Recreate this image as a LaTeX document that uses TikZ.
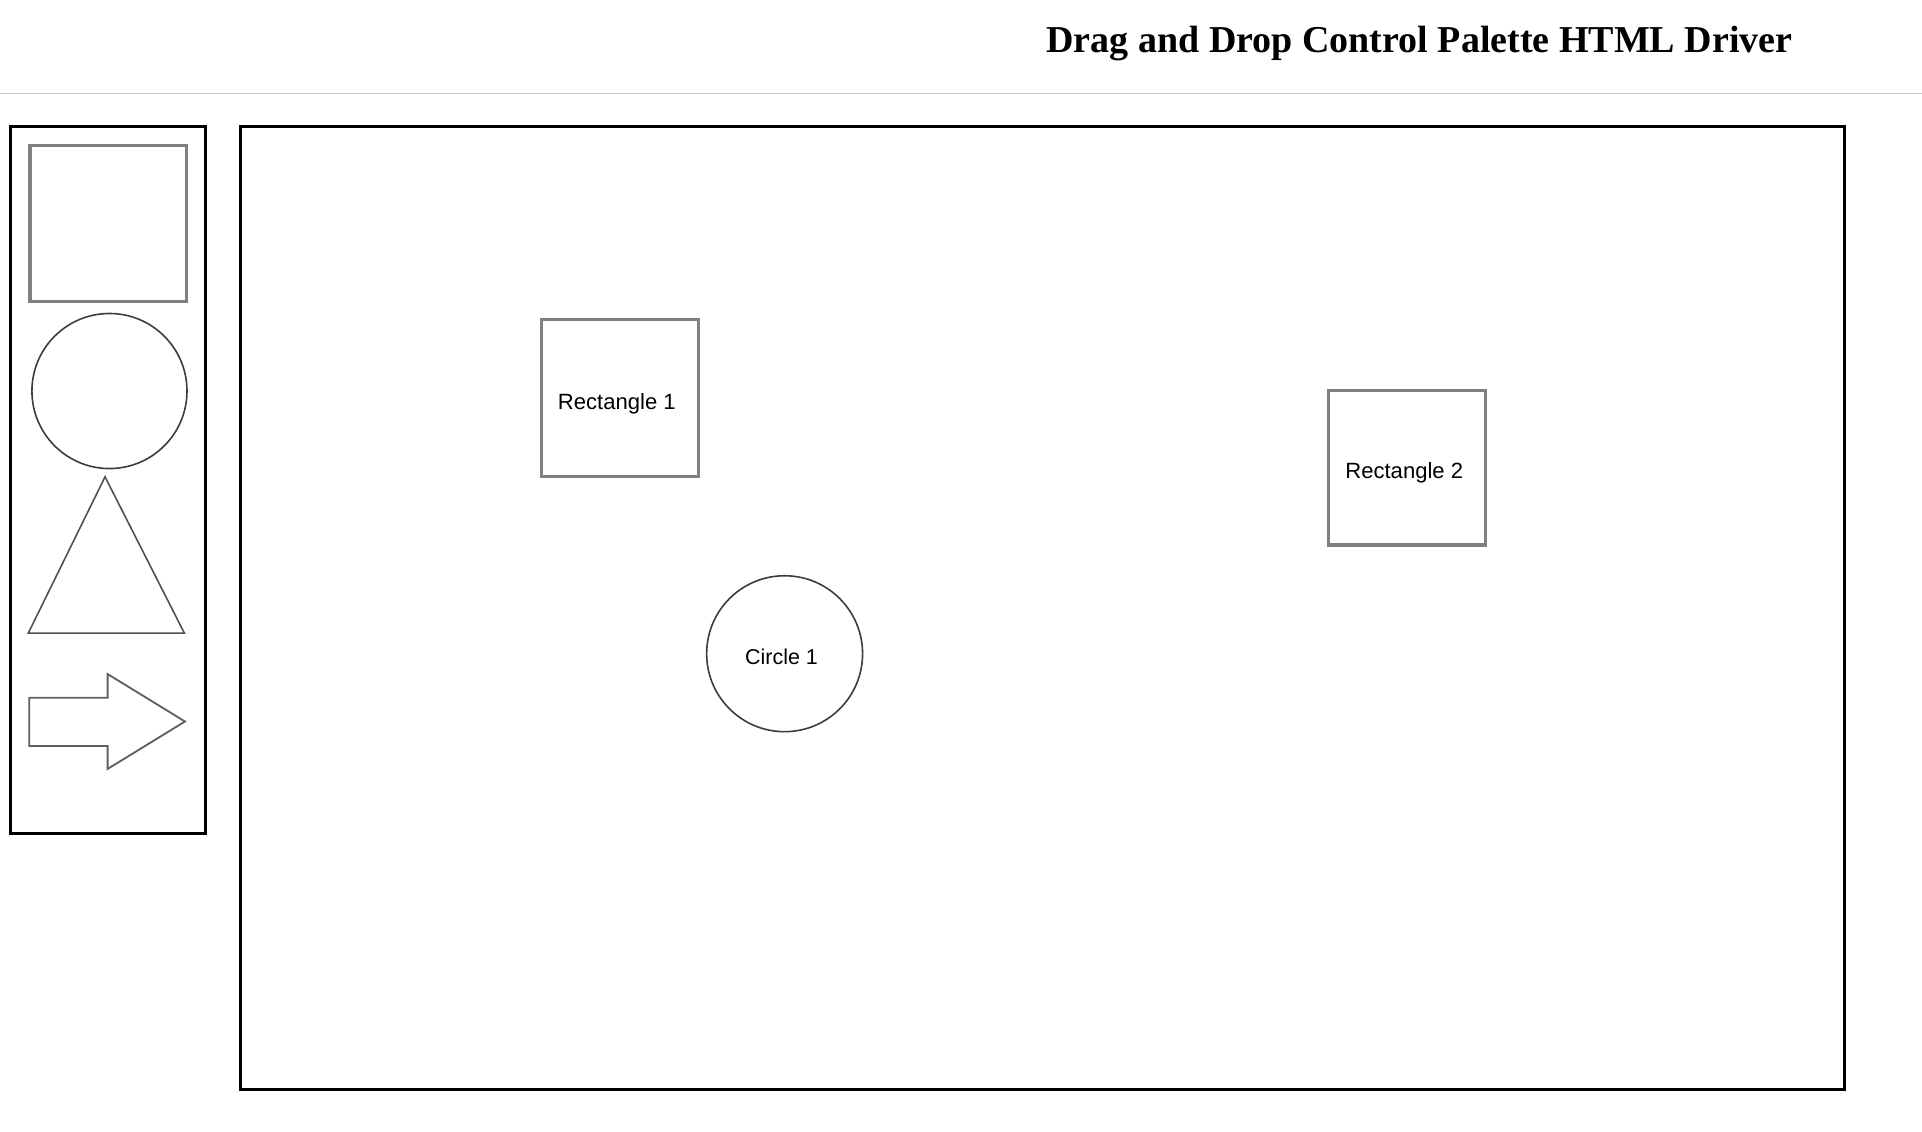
\documentclass[tikz,border=0pt]{standalone}
\usepackage{fontspec}
\setmainfont{Liberation Serif}
\newfontfamily\labelfont{Liberation Sans}
\definecolor{framecol}{RGB}{0,0,0}
\definecolor{rulecol}{RGB}{200,200,200}
\definecolor{boxgray}{RGB}{128,128,128}
\definecolor{roundgray}{RGB}{60,60,60}
\definecolor{trigray}{RGB}{80,80,80}
\definecolor{arrowgray}{RGB}{95,95,95}
\tikzset{
  frame/.style={draw=framecol, line width=2.5pt},
  squarebox/.style={draw=boxgray, line width=2.5pt, rectangle, inner sep=0pt,
    font=\labelfont\fontsize{18pt}{20pt}\selectfont, text height=18pt, text depth=0pt},
  roundbox/.style={draw=roundgray, line width=1.3pt, circle, inner sep=0pt,
    font=\labelfont\fontsize{17.5pt}{20pt}\selectfont, text height=18pt, text depth=0pt},
  triline/.style={draw=trigray, line width=1.3pt, line join=miter},
  arrowline/.style={draw=arrowgray, line width=1.5pt, line join=miter},
  titletext/.style={font=\fontsize{31pt}{36pt}\selectfont\bfseries, inner sep=0pt}
}
\begin{document}
\begin{tikzpicture}[x=1pt,y=-1pt]
\useasboundingbox (0,0) rectangle (1568,923.5);
% title and rule
\node[titletext, anchor=base] (title) at (1158,43) {Drag and Drop Control Palette HTML Driver};
\coordinate (ruleL) at (0,76.1);
\coordinate (ruleR) at (1568,76.1);
\draw[rulecol, line width=1.2pt] (ruleL) -- (ruleR);
% palette frame and canvas frame
\draw[frame] (8.8,103.3) rectangle (167.6,679.6);
\draw[frame] (196.5,103.4) rectangle (1504.7,888.6);
% palette shapes
\node[squarebox, minimum width=127.7pt, minimum height=126.9pt] (psquare) at (88.35,182.35) {};
\node[roundbox, minimum size=126.5pt] (pcircle) at (89.3,319) {};
\draw[triline] (85.7,389) -- (150.4,516.5) -- (23.1,516.5) -- cycle;
\draw[arrowline] (23.9,569.2) -- (87.8,569.2) -- (87.8,549.9) -- (150.9,588.6)
  -- (87.8,627.3) -- (87.8,608.6) -- (23.9,608.6) -- cycle;
% canvas shapes
\node[squarebox, minimum width=127.5pt, minimum height=128pt] (rect1) at (505.75,325) {Rectangle 1\hspace*{5pt}};
\node[squarebox, minimum width=127.8pt, minimum height=126.4pt] (rect2) at (1147.6,381.4) {Rectangle 2\hspace*{4pt}};
\node[roundbox, minimum size=127.2pt] (circ1) at (640.1,533.3) {Circle 1\hspace*{5pt}};
\end{tikzpicture}
\end{document}
